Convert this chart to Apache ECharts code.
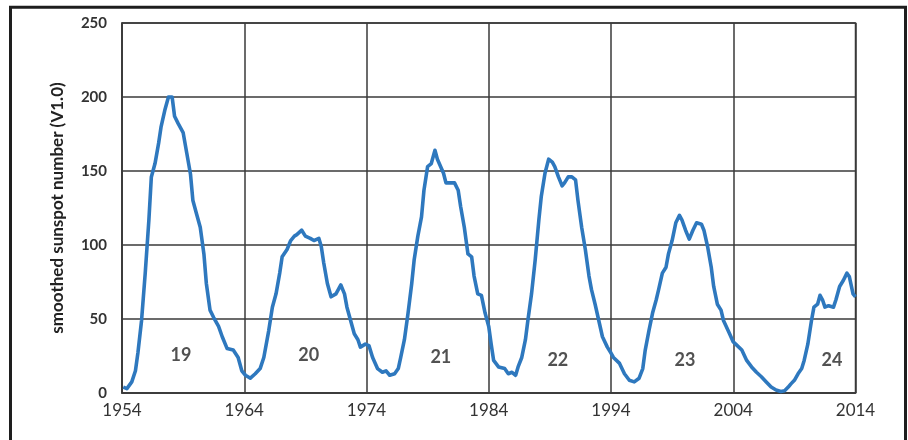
<!DOCTYPE html>
<html>
<head>
<meta charset="utf-8">
<script src="https://cdn.jsdelivr.net/npm/echarts@6/dist/echarts.min.js"></script>
<style>
html, body { margin: 0; padding: 0; background: #fff; }
#main { width: 908px; height: 440px; }
</style>
</head>
<body>
<div id="main"></div>
<script>
// smoothed sunspot number
var years = [
    1954.1, 1954.4, 1954.8, 1955.1, 1955.3, 1955.6, 1955.9, 1956.2, 1956.4, 1956.7,
    1957.0, 1957.2, 1957.5, 1957.8, 1958.1, 1958.3, 1958.6, 1959.0, 1959.3, 1959.6,
    1959.8, 1960.1, 1960.4, 1960.7, 1960.9, 1961.2, 1961.5, 1961.9, 1962.2, 1962.6,
    1963.1, 1963.5, 1963.8, 1964.1, 1964.5, 1964.9, 1965.3, 1965.6, 1966.0, 1966.3,
    1966.6, 1966.9, 1967.1, 1967.5, 1967.8, 1968.1, 1968.3, 1968.7, 1969.0, 1969.4,
    1969.7, 1970.1, 1970.3, 1970.5, 1970.8, 1971.1, 1971.5, 1971.9, 1972.2, 1972.4,
    1972.7, 1973.0, 1973.3, 1973.5, 1973.9, 1974.2, 1974.5, 1974.9, 1975.3, 1975.6,
    1975.9, 1976.3, 1976.6, 1976.8, 1977.1, 1977.4, 1977.7, 1977.9, 1978.2, 1978.5,
    1978.7, 1979.0, 1979.3, 1979.6, 1979.8, 1980.3, 1980.5, 1980.8, 1981.2, 1981.5,
    1981.7, 1982.0, 1982.3, 1982.6, 1982.8, 1983.1, 1983.4, 1983.7, 1984.0, 1984.2,
    1984.4, 1984.8, 1985.3, 1985.6, 1985.9, 1986.2, 1986.4, 1986.7, 1987.0, 1987.2,
    1987.5, 1987.8, 1988.1, 1988.3, 1988.6, 1988.9, 1989.2, 1989.4, 1989.7, 1990.0,
    1990.2, 1990.5, 1990.8, 1991.1, 1991.3, 1991.6, 1991.9, 1992.2, 1992.4, 1992.7,
    1993.0, 1993.3, 1993.7, 1994.0, 1994.2, 1994.7, 1995.1, 1995.5, 1995.9, 1996.3,
    1996.6, 1996.8, 1997.1, 1997.4, 1997.7, 1997.9, 1998.2, 1998.5, 1998.7, 1999.0,
    1999.3, 1999.6, 1999.8, 2000.1, 2000.4, 2000.7, 2001.0, 2001.4, 2001.6, 2001.9,
    2002.2, 2002.4, 2002.7, 2003.0, 2003.2, 2003.7, 2004.0, 2004.2, 2004.7, 2005.1,
    2005.5, 2005.9, 2006.3, 2006.7, 2007.1, 2007.5, 2007.9, 2008.2, 2008.5, 2008.7,
    2009.0, 2009.3, 2009.6, 2009.8, 2010.1, 2010.4, 2010.6, 2010.9, 2011.1, 2011.3,
    2011.5, 2011.8, 2012.2, 2012.4, 2012.7, 2013.0, 2013.3, 2013.5, 2013.8, 2014.0
];
var sunspots = [
    4, 3, 7.5, 15, 27, 49, 81, 117, 146, 155,
    169, 180, 191, 200, 200, 187, 182, 176, 162, 148,
    130, 121, 112, 94, 74, 56, 51, 45, 38, 30,
    29, 24, 15, 12, 10, 13, 16.5, 24, 42, 58,
    67, 81, 92, 97, 103, 106, 107, 110, 106, 104.5,
    103, 104.5, 99, 88, 74, 65, 67, 73, 67, 58,
    49, 40, 36, 31, 33, 32, 24, 16.5, 14, 15,
    12, 13, 16.5, 24, 36, 54, 74, 90, 106, 119,
    137, 153, 155, 164, 158, 148.5, 142, 142, 142, 137,
    126, 112, 94, 92, 79, 67, 66, 54, 45, 33,
    22, 17.6, 16.5, 13, 14, 12, 17.6, 24, 36, 49,
    67, 90, 117, 133, 148.5, 158, 156, 153, 146, 140,
    142, 146, 146, 144, 130, 112, 97, 79, 70, 60,
    49, 38, 31, 27, 24, 20, 13, 8.6, 7.5, 10,
    16.5, 29, 42, 54, 63, 70, 81, 85, 94, 103,
    115, 120, 117, 110, 104, 110, 115, 114, 110, 99,
    85, 72, 60, 56, 49, 40, 34.5, 33, 29, 22,
    17.6, 14, 11, 7.5, 4, 2, 1, 1.5, 4, 6,
    8.6, 13, 16.5, 22, 33, 49, 58, 60, 66, 63,
    58, 59, 58, 63, 72, 76, 81, 78.5, 67, 65
];

// solar cycle numbers and where they are written
var cycleNames = ['19', '20', '21', '22', '23', '24'];
var cycleYears = [1958.83, 1969.28, 1980.08, 1989.65, 2000.05, 2012.08];
var cycleValues = [25.7, 25.7, 24.3, 22.3, 22, 22.3];

var myChart = echarts.init(document.getElementById('main'));

option = {
    animation: false,
    backgroundColor: '#fff',
    grid: {
        left: 122,
        right: 52.5,
        top: 23,
        bottom: 47,
        show: true,
        borderColor: '#3a3a3a',
        borderWidth: 1.5
    },
    graphic: [{
        type: 'rect',
        shape: { x: 10.5, y: 7.2, width: 895, height: 460 },
        style: { fill: 'none', stroke: '#1e1e1e', lineWidth: 3 },
        silent: true
    }],
    xAxis: {
        type: 'value',
        min: 1954,
        max: 2014,
        interval: 10,
        axisLine: { show: true, lineStyle: { color: '#3a3a3a', width: 1.5 } },
        axisTick: { show: false },
        splitLine: { show: true, lineStyle: { color: '#3a3a3a', width: 1.5 } },
        axisLabel: {
            color: '#333',
            fontFamily: 'Lato',
            fontSize: 17,
            margin: 9,
            formatter: function (v) { return String(v); }
        }
    },
    yAxis: {
        type: 'value',
        min: 0,
        max: 250,
        interval: 50,
        name: 'smoothed sunspot number (V1.0)',
        nameLocation: 'middle',
        nameGap: 56,
        nameTextStyle: {
            color: '#222',
            fontFamily: 'Lato',
            fontWeight: 'bold',
            fontSize: 17
        },
        axisLine: { show: true, lineStyle: { color: '#3a3a3a', width: 1.5 } },
        axisTick: { show: false },
        splitLine: { show: true, lineStyle: { color: '#3a3a3a', width: 1.5 } },
        axisLabel: {
            color: '#333',
            fontFamily: 'Lato',
            fontWeight: 'bold',
            fontSize: 15,
            margin: 15
        }
    },
    series: [{
        type: 'line',
        data: years.map(function (y, i) {
            return [y, sunspots[i]];
        }),
        showSymbol: false,
        lineStyle: { color: '#2e78be', width: 3.6, join: 'round' }
    }, {
        type: 'scatter',
        symbolSize: 0,
        data: cycleYears.map(function (y, i) {
            return { value: [y, cycleValues[i]], name: cycleNames[i] };
        }),
        label: {
            show: true,
            position: 'inside',
            formatter: '{b}',
            color: '#262626',
            fontFamily: 'Lato',
            fontWeight: 'bold',
            fontSize: 18
        }
    }]
};

myChart.setOption(option);
</script>
</body>
</html>
